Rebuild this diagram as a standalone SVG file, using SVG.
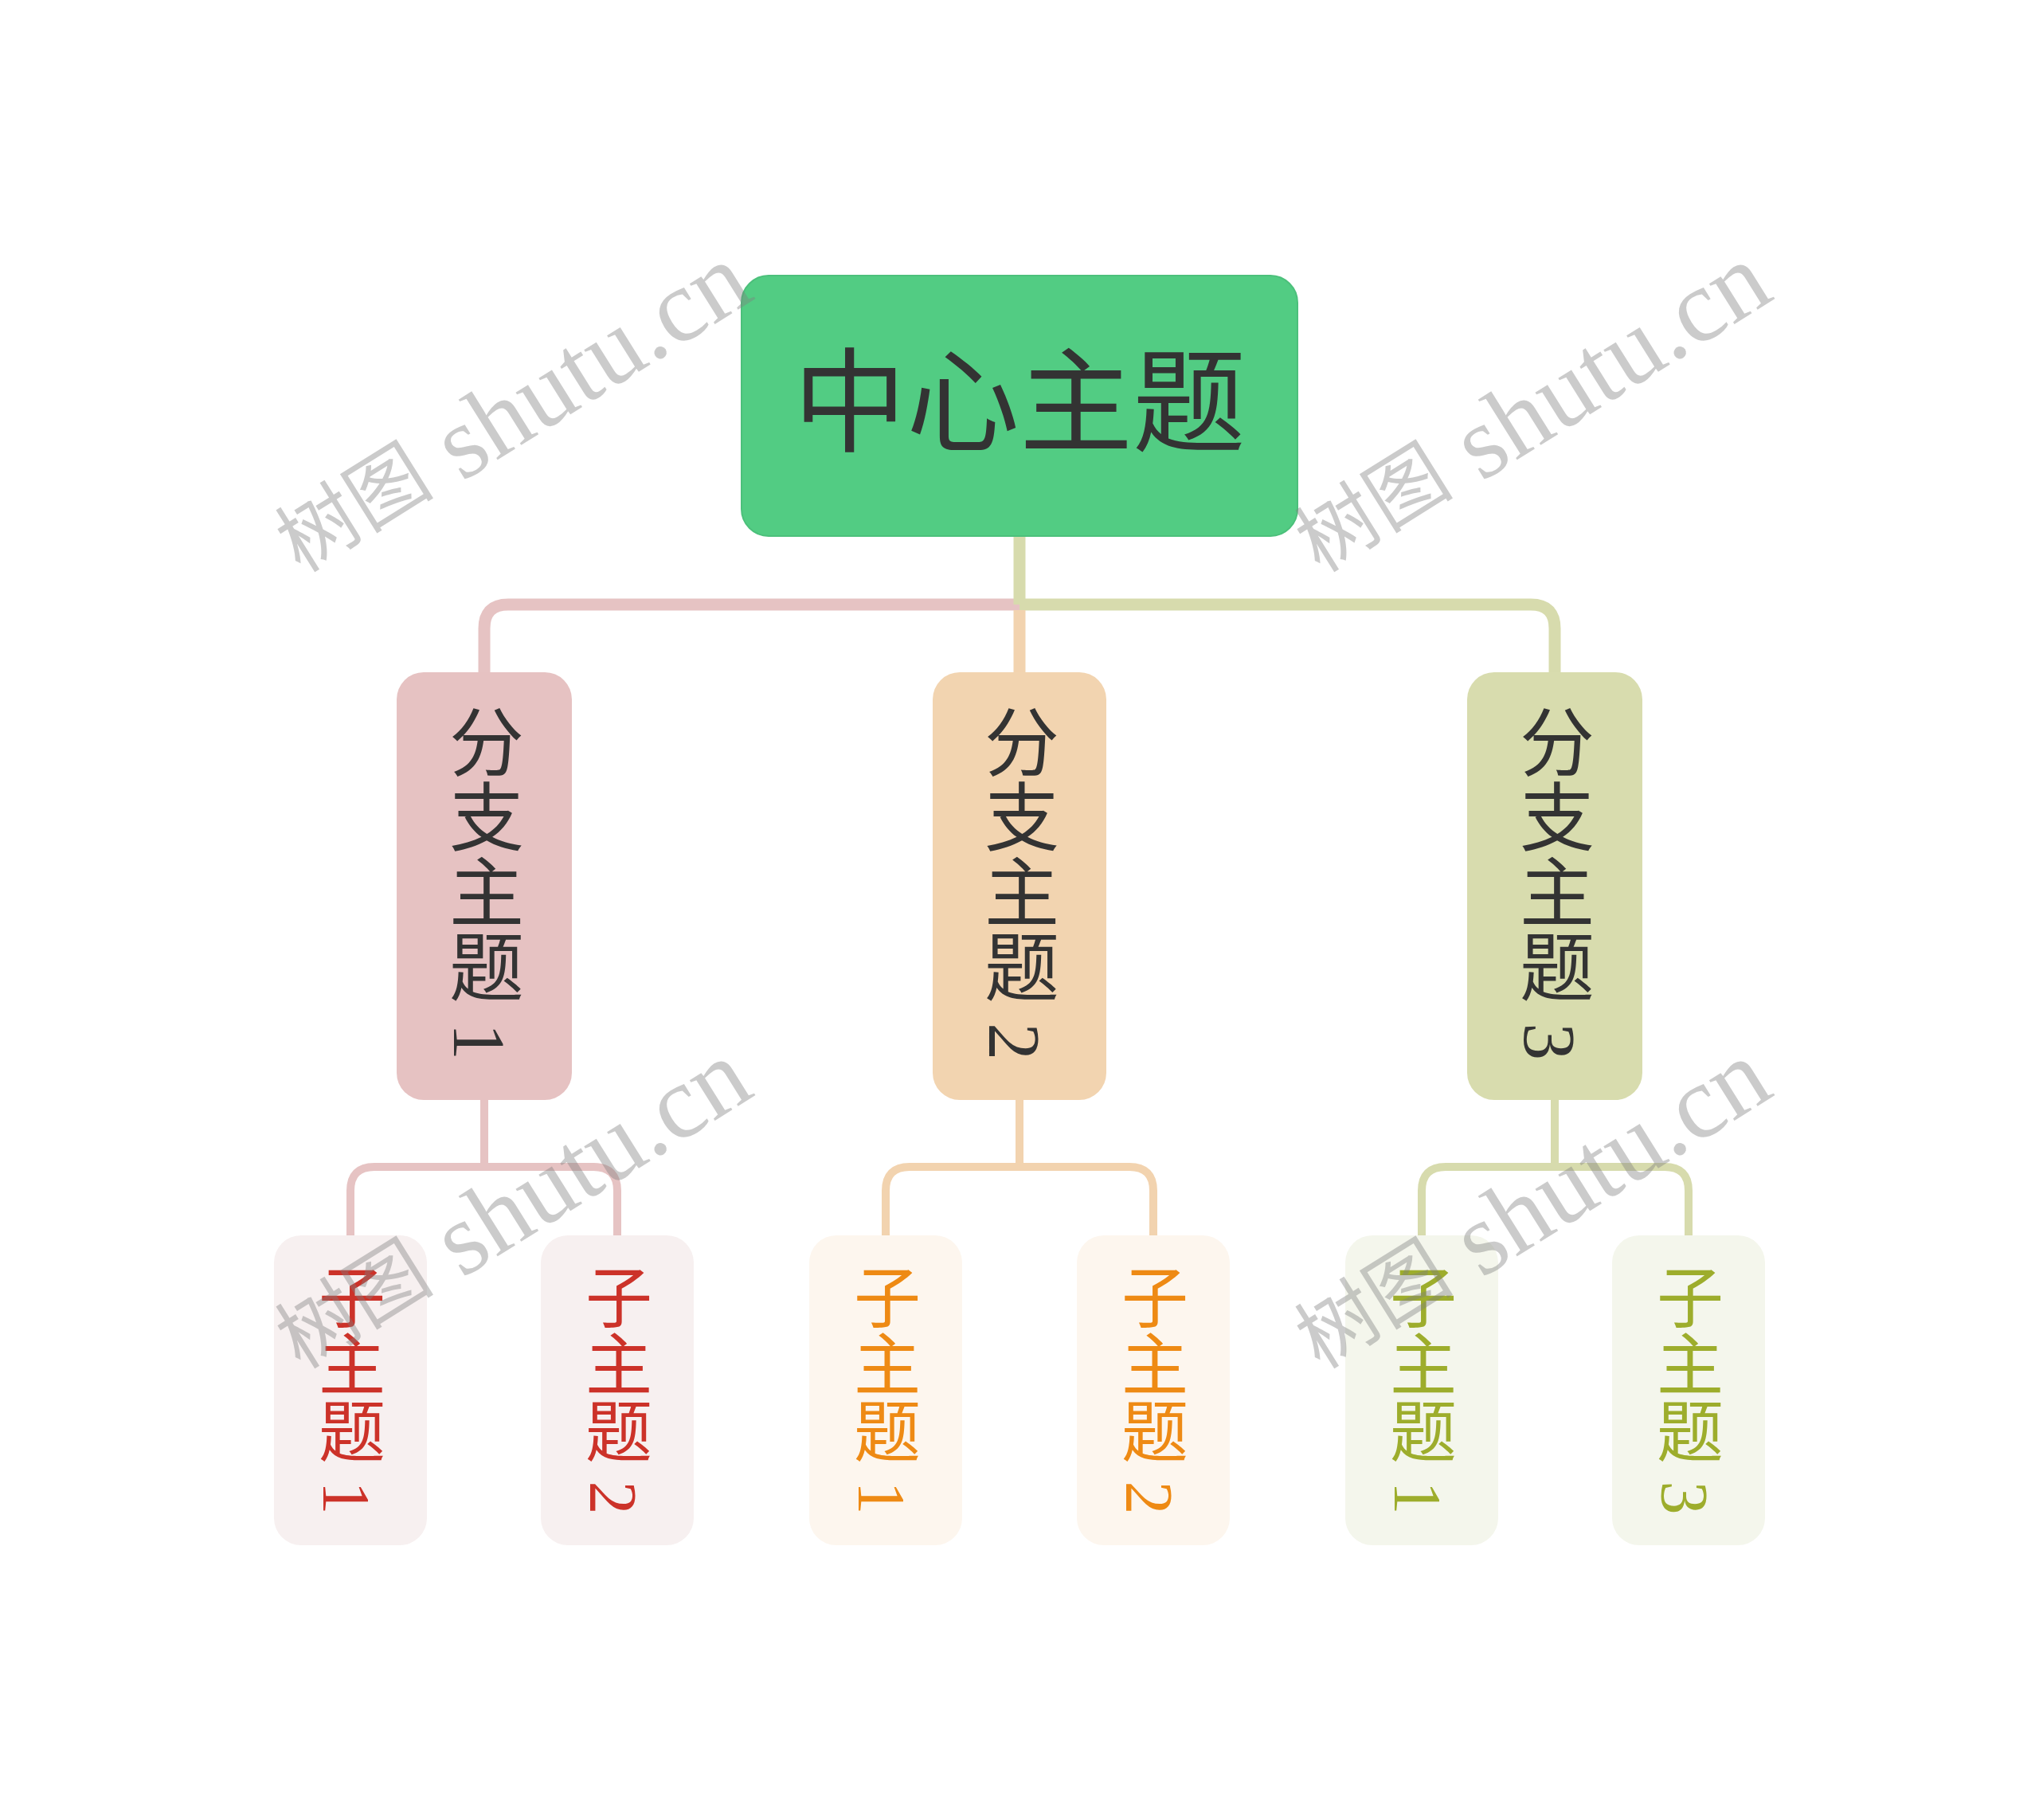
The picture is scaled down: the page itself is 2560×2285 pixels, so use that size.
<svg xmlns="http://www.w3.org/2000/svg" width="2560" height="2285" viewBox="0 0 2560 2285">
<style>
.t{font-family:"Liberation Serif","Noto Sans CJK SC",sans-serif;}
.vt{writing-mode:vertical-rl;text-anchor:middle;}
.main{fill:none;stroke-width:15;stroke-linecap:butt;}
.sub{fill:none;stroke-width:10;stroke-linecap:butt;}
.wm{font-family:"Liberation Serif","Noto Sans CJK SC",serif;font-size:130px;fill:#7f7f7f;opacity:0.4;text-anchor:middle;dominant-baseline:central;}
.wc{font-size:100px;}
</style>
<rect width="2560" height="2285" fill="#ffffff"/>
<g id="connectors">
<path class="main" stroke="#E6C3C3" d="M1280,759 H638 Q608,759 608,789 V844"/>
<path class="main" stroke="#D7DBAD" d="M1280,759 H1922 Q1952,759 1952,789 V844"/>
<path class="main" stroke="#D7DBAD" d="M1280,673 V759"/>
<path class="main" stroke="#F2D3AF" d="M1280,766 V844"/>
<path class="sub" stroke="#E6C3C3" d="M608,1381 V1465 M440,1551 V1495 Q440,1465 470,1465 H745 Q775,1465 775,1495 V1551"/>
<path class="sub" stroke="#F2D3AF" d="M1280,1381 V1465 M1112,1551 V1495 Q1112,1465 1142,1465 H1418 Q1448,1465 1448,1495 V1551"/>
<path class="sub" stroke="#D7DBAD" d="M1952,1381 V1465 M1785,1551 V1495 Q1785,1465 1815,1465 H2090 Q2120,1465 2120,1495 V1551"/>
</g>
<g id="central">
<rect x="931" y="346" width="698" height="327" rx="34" fill="#52CC83" stroke="#4CC07B" stroke-width="2"/>
<text class="t" x="1280" y="508" font-size="142" fill="#333333" text-anchor="middle" dominant-baseline="central">中心主题</text>
</g>
<g id="branch1">
<rect x="498" y="844" width="220" height="537" rx="34" fill="#E6C2C2"/>
<text class="t vt" x="602" y="1108" font-size="94" fill="#333333">分支主题 1</text>
</g>
<g id="branch2">
<rect x="1171" y="844" width="218" height="537" rx="34" fill="#F2D4B0"/>
<text class="t vt" x="1274" y="1108" font-size="94" fill="#333333">分支主题 2</text>
</g>
<g id="branch3">
<rect x="1842" y="844" width="220" height="537" rx="34" fill="#D8DCAE"/>
<text class="t vt" x="1946" y="1108" font-size="94" fill="#333333">分支主题 3</text>
</g>
<g id="child1-1">
<rect x="344" y="1551" width="192" height="389" rx="34" fill="#F7F0F0"/>
<text class="t vt" x="434" y="1744" font-size="84" fill="#CC3229">子主题 1</text>
</g>
<g id="child1-2">
<rect x="679" y="1551" width="192" height="389" rx="34" fill="#F7F0F0"/>
<text class="t vt" x="769" y="1744" font-size="84" fill="#CC3229">子主题 2</text>
</g>
<g id="child2-1">
<rect x="1016" y="1551" width="192" height="389" rx="34" fill="#FDF6EE"/>
<text class="t vt" x="1106" y="1744" font-size="84" fill="#EE8A14">子主题 1</text>
</g>
<g id="child2-2">
<rect x="1352" y="1551" width="192" height="389" rx="34" fill="#FDF6EE"/>
<text class="t vt" x="1442" y="1744" font-size="84" fill="#EE8A14">子主题 2</text>
</g>
<g id="child3-1">
<rect x="1689" y="1551" width="192" height="389" rx="34" fill="#F4F6EC"/>
<text class="t vt" x="1779" y="1744" font-size="84" fill="#9DAD2C">子主题 1</text>
</g>
<g id="child3-2">
<rect x="2024" y="1551" width="192" height="389" rx="34" fill="#F4F6EC"/>
<text class="t vt" x="2114" y="1744" font-size="84" fill="#9DAD2C">子主题 3</text>
</g>
<g id="watermarks">
<text class="wm" transform="translate(643,514) rotate(-32)"><tspan class="wc">树图</tspan> shutu.cn</text>
<text class="wm" transform="translate(1923,514) rotate(-32)"><tspan class="wc">树图</tspan> shutu.cn</text>
<text class="wm" transform="translate(643,1514) rotate(-32)"><tspan class="wc">树图</tspan> shutu.cn</text>
<text class="wm" transform="translate(1923,1514) rotate(-32)"><tspan class="wc">树图</tspan> shutu.cn</text>
</g>
</svg>
